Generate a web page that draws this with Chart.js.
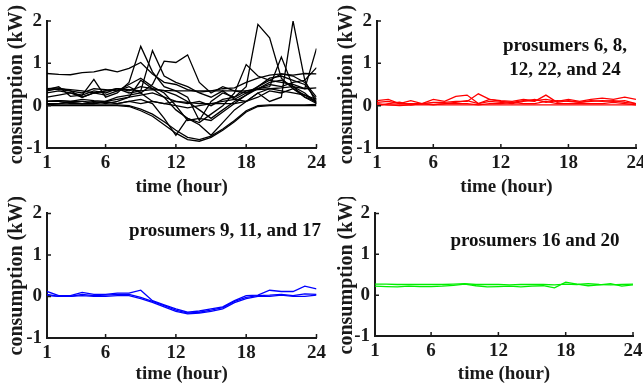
<!DOCTYPE html>
<html>
<head>
<meta charset="utf-8">
<script src="https://cdn.jsdelivr.net/npm/chart.js@4/dist/chart.umd.min.js"></script>
<style>
  html, body { margin: 0; padding: 0; background: #fff; overflow: hidden; }
  body { width: 643px; height: 384px; position: relative; }
  canvas { position: absolute; }
  .note { position: absolute; transform: translate(-50%, -50%); font: bold 19px "Liberation Serif", "Times New Roman", serif;
          color: #111; text-align: center; line-height: 24px; white-space: nowrap; }
</style>
</head>
<body>
<canvas id="c1" width="330" height="197" style="left:0;top:0"></canvas>
<canvas id="c2" width="320" height="197" style="left:330px;top:0"></canvas>
<canvas id="c3" width="330" height="187" style="left:0;top:197px"></canvas>
<canvas id="c4" width="320" height="187" style="left:330px;top:197px"></canvas>
<div class="note" style="left:565px;top:57px">prosumers 6, 8,<br>12, 22, and 24</div>
<div class="note" style="left:225px;top:230px">prosumers 9, 11, and 17</div>
<div class="note" style="left:535px;top:240px">prosumers 16 and 20</div>
<script>
var hours = [1,2,3,4,5,6,7,8,9,10,11,12,13,14,15,16,17,18,19,20,21,22,23,24];
var xTicks = [1, 6, 12, 18, 24];
var yTicks = [-1, 0, 1, 2];

// other prosumers (black)
var blackSeries = [
  [0.76,0.74,0.73,0.78,0.80,0.86,0.80,0.88,1.02,0.75,0.55,0.50,0.38,0.32,0.35,0.40,0.42,0.55,0.65,0.72,0.75,0.72,0.76,0.75],
  [0.38,0.45,0.22,0.25,0.62,0.20,0.30,0.55,1.40,0.80,0.45,0.35,0.20,-0.35,0.10,0.30,0.20,0.35,0.40,0.55,0.60,0.45,0.20,0.05],
  [0.30,0.35,0.30,0.20,0.30,0.35,0.40,0.30,0.35,1.30,0.70,0.55,0.45,0.30,0.20,0.35,0.15,0.30,0.45,0.65,0.70,0.60,0.50,0.15],
  [0.40,0.38,0.35,0.30,0.40,0.38,0.35,0.45,0.30,0.50,1.05,1.02,1.20,0.55,0.30,0.45,0.35,0.30,0.40,0.50,0.45,0.55,0.60,0.90],
  [0.10,0.12,0.10,0.15,0.12,0.10,0.15,0.20,0.25,0.30,0.20,0.10,0.05,0.10,0.00,0.15,0.20,0.45,1.92,1.60,0.65,0.40,0.20,0.10],
  [0.05,0.05,0.08,0.05,0.05,0.08,0.05,0.10,0.05,0.10,0.05,0.00,-0.05,0.00,0.05,0.05,0.05,0.10,0.30,0.10,0.20,2.00,0.60,0.05],
  [0.20,0.25,0.30,0.25,0.35,0.30,0.40,0.35,0.45,0.40,0.35,0.25,0.10,-0.10,-0.30,-0.10,0.10,0.25,0.40,0.45,1.15,0.45,0.30,0.05],
  [0.10,0.10,0.05,0.05,0.10,0.05,0.10,0.20,0.60,0.40,0.20,-0.10,-0.30,-0.40,-0.20,0.00,0.30,0.97,0.70,0.60,0.55,0.50,0.40,1.35],
  [0.03,0.02,0.02,0.02,0.02,0.02,0.02,0.00,-0.08,-0.20,-0.38,-0.58,-0.75,-0.80,-0.72,-0.55,-0.35,-0.12,0.00,0.02,0.02,0.02,0.02,0.03],
  [0.00,0.00,0.00,0.00,0.00,0.00,0.00,-0.02,-0.12,-0.25,-0.45,-0.65,-0.80,-0.84,-0.75,-0.58,-0.38,-0.15,-0.02,0.00,0.00,0.00,0.00,0.00],
  [0.05,0.05,0.08,0.05,0.05,0.10,0.05,0.10,0.15,0.05,-0.30,-0.70,-0.30,-0.45,-0.70,-0.40,-0.10,0.10,0.30,0.40,0.35,0.30,0.25,0.15],
  [0.35,0.40,0.38,0.35,0.30,0.35,0.40,0.38,0.35,0.38,0.36,0.35,0.35,0.35,0.35,0.35,0.35,0.35,0.38,0.40,0.42,0.45,0.40,0.42],
  [0.10,0.12,0.10,0.10,0.08,0.10,0.20,0.25,0.30,0.10,0.05,0.10,0.08,0.05,0.05,0.10,0.15,0.10,0.20,0.35,0.30,0.40,0.25,0.10],
  [0.40,0.42,0.35,0.20,0.30,0.25,0.35,0.50,0.65,0.45,0.30,0.00,-0.35,-0.30,-0.35,-0.15,0.05,0.25,0.45,0.60,0.75,0.70,0.55,0.20]
];

// prosumers 6, 8, 12, 22, 24
var redSeries = [
  [0.12,0.15,0.05,0.12,0.05,0.15,0.10,0.22,0.25,0.05,0.15,0.12,0.10,0.15,0.12,0.15,0.10,0.15,0.10,0.15,0.18,0.15,0.20,0.15],
  [0.08,0.10,0.05,0.05,0.05,0.08,0.08,0.10,0.10,0.28,0.15,0.10,0.08,0.12,0.10,0.25,0.08,0.12,0.08,0.10,0.12,0.10,0.12,0.05],
  [0.05,0.02,0.00,0.02,0.05,0.02,0.05,0.05,0.05,0.02,0.05,0.05,0.08,0.05,0.05,0.10,0.05,0.05,0.05,0.05,0.05,0.08,0.05,0.02],
  [0.02,0.02,0.02,0.02,0.02,0.02,0.02,0.02,0.02,0.02,0.02,0.02,0.02,0.02,0.02,0.02,0.02,0.02,0.02,0.02,0.02,0.02,0.02,0.02],
  [0.00,0.05,0.08,0.02,0.05,0.03,0.05,0.08,0.12,0.05,0.10,0.08,0.05,0.10,0.15,0.08,0.12,0.10,0.08,0.12,0.10,0.12,0.08,0.05]
];

// prosumers 9, 11, 17
var blueSeries = [
  [0.12,0.02,0.02,0.10,0.05,0.05,0.08,0.08,0.15,-0.10,-0.20,-0.30,-0.38,-0.35,-0.30,-0.25,-0.10,0.02,0.03,0.15,0.12,0.12,0.25,0.18],
  [0.05,0.00,0.00,0.05,0.02,0.03,0.05,0.05,-0.02,-0.12,-0.22,-0.33,-0.40,-0.38,-0.33,-0.27,-0.12,-0.02,0.02,0.03,0.05,0.02,0.06,0.05],
  [0.02,0.00,0.00,0.02,0.00,0.00,0.02,0.02,-0.05,-0.14,-0.25,-0.36,-0.42,-0.40,-0.36,-0.30,-0.15,-0.05,0.00,0.00,0.03,0.00,0.00,0.03]
];

// prosumers 16, 20
var greenSeries = [
  [0.27,0.27,0.26,0.26,0.26,0.26,0.26,0.27,0.28,0.26,0.26,0.26,0.25,0.26,0.26,0.26,0.25,0.27,0.26,0.28,0.26,0.25,0.26,0.27],
  [0.22,0.21,0.20,0.22,0.21,0.21,0.22,0.24,0.27,0.23,0.20,0.21,0.22,0.20,0.22,0.23,0.18,0.32,0.27,0.23,0.25,0.28,0.22,0.25]
];

var ink = '#1a1a1a';
var fontFam = '"Liberation Serif", "Times New Roman", serif';

// MATLAB style ticks pointing into the axes
var inwardTicks = {
  id: 'inwardTicks',
  afterDraw: function(chart) {
    var ctx = chart.ctx, a = chart.chartArea, x = chart.scales.x, y = chart.scales.y;
    ctx.save();
    ctx.strokeStyle = ink;
    ctx.lineWidth = 1.5;
    ctx.beginPath();
    x.ticks.forEach(function(t) {
      var px = x.getPixelForValue(t.value);
      ctx.moveTo(px, a.bottom); ctx.lineTo(px, a.bottom - 4);
    });
    y.ticks.forEach(function(t) {
      var py = y.getPixelForValue(t.value);
      ctx.moveTo(a.left, py); ctx.lineTo(a.left + 4, py);
    });
    ctx.stroke();
    ctx.restore();
  }
};

function makePanel(id, series, color, box) {
  var datasets = series.map(function(vals) {
    return {
      data: hours.map(function(h, i) { return {x: h, y: vals[i]}; }),
      borderColor: color,
      borderWidth: 1.3,
      pointRadius: 0,
      tension: 0,
      fill: false
    };
  });
  new Chart(document.getElementById(id), {
    type: 'line',
    data: { datasets: datasets },
    plugins: [inwardTicks],
    options: {
      responsive: false,
      animation: false,
      devicePixelRatio: 1,
      layout: { padding: { top: box.top, right: box.right, left: 0, bottom: 0 } },
      plugins: { legend: { display: false }, tooltip: { enabled: false } },
      scales: {
        x: {
          type: 'linear', min: 1, max: 24,
          afterBuildTicks: function(s) { s.ticks = xTicks.map(function(v) { return {value: v}; }); },
          afterFit: function(s) { s.height = box.xh; },
          grid: { display: false, drawTicks: false },
          border: { display: true, color: ink, width: 2 },
          ticks: { color: ink, padding: 4, maxRotation: 0, font: { family: fontFam, size: 19, weight: 'bold' } },
          title: { display: true, text: 'time (hour)', color: ink, padding: 0,
                   font: { family: fontFam, size: 19, weight: 'bold', lineHeight: 1 } }
        },
        y: {
          min: -1, max: 2,
          afterBuildTicks: function(s) { s.ticks = yTicks.map(function(v) { return {value: v}; }); },
          afterFit: function(s) { s.width = box.yw; },
          grid: { display: false, drawTicks: false },
          border: { display: true, color: ink, width: 2 },
          ticks: { color: ink, padding: 5, font: { family: fontFam, size: 19, weight: 'bold' } },
          title: { display: true, text: 'consumption (kW)', color: ink, padding: { top: 5, bottom: 0 },
                   font: { family: fontFam, size: 20, weight: 'bold', lineHeight: 1.2 } }
        }
      }
    }
  });
}

makePanel('c1', blackSeries, '#000000', { top: 21, right: 10, xh: 49, yw: 47 });
makePanel('c2', redSeries, '#ff0000', { top: 21, right: 14, xh: 49, yw: 47 });
makePanel('c3', blueSeries, '#0000ff', { top: 14, right: 10, xh: 46, yw: 47 });
makePanel('c4', greenSeries, '#00ee00', { top: 15, right: 17, xh: 48, yw: 45 });
</script>
</body>
</html>
